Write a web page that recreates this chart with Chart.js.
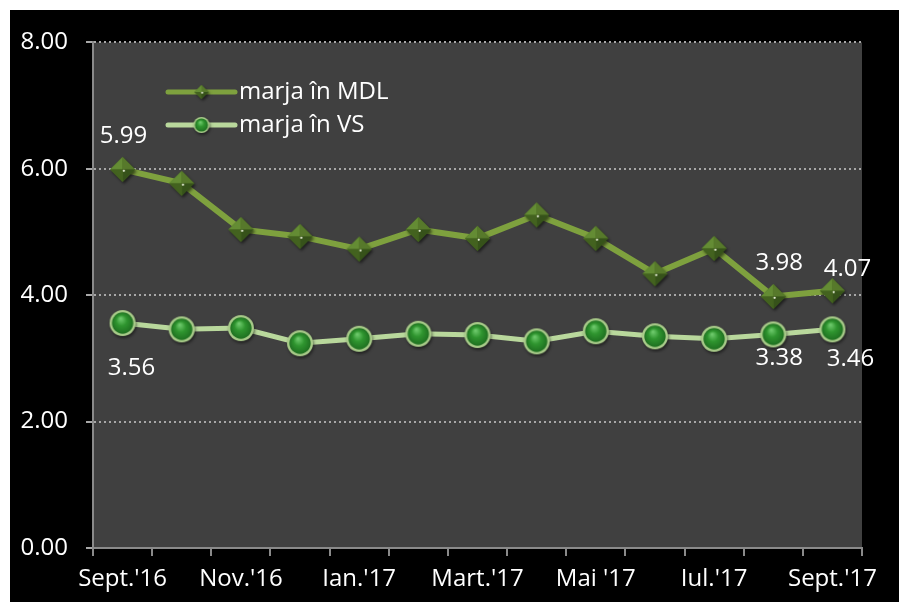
<!DOCTYPE html>
<html>
<head>
<meta charset="utf-8">
<script src="https://cdn.jsdelivr.net/npm/chart.js@4.4.1/dist/chart.umd.min.js"></script>
<style>
  html, body { margin: 0; padding: 0; background: #ffffff; }
  #wrap { position: absolute; left: 10px; top: 10px; width: 889px; height: 592px; background: #000; }
  canvas { display: block; }
</style>
</head>
<body>
<div id="wrap"><canvas id="c" width="889" height="592"></canvas></div>
<script>
// ---- data ----
const categories = ["Sept.'16", "Oct.'16", "Nov.'16", "Dec.'16", "Ian.'17", "Feb.'17", "Mart.'17", "Apr.'17", "Mai '17", "Iun.'17", "Iul.'17", "Aug.'17", "Sept.'17"];
const seriesNames = ["marja în MDL", "marja în VS"];
const marjaMDL = [5.99, 5.77, 5.04, 4.93, 4.73, 5.04, 4.90, 5.27, 4.90, 4.34, 4.74, 3.98, 4.07];
const marjaVS  = [3.56, 3.46, 3.48, 3.24, 3.31, 3.39, 3.37, 3.27, 3.43, 3.35, 3.31, 3.38, 3.46];
const yTicks = [0, 2, 4, 6, 8];

// labelled points (dataset, index) with label offsets (style)
const labelled = [
  {ds: 0, i: 0,  dx: 1,  dy: -33},
  {ds: 0, i: 11, dx: 6,  dy: -33},
  {ds: 0, i: 12, dx: 15, dy: -22},
  {ds: 1, i: 0,  dx: 9,  dy: 45},
  {ds: 1, i: 11, dx: 6,  dy: 24},
  {ds: 1, i: 12, dx: 18, dy: 30}
];

const FONT = "'Open Sans', 'Noto Sans', sans-serif";

function makeDiamond(h) {
  const s = Math.ceil(h * 2 + 8);
  const cv = document.createElement('canvas');
  cv.width = s; cv.height = s;
  const g = cv.getContext('2d');
  const c = s / 2;
  g.save();
  g.shadowColor = 'rgba(0,0,0,0.55)';
  g.shadowBlur = 3; g.shadowOffsetX = 1.5; g.shadowOffsetY = 2;
  g.beginPath();
  g.moveTo(c, c - h); g.lineTo(c + h, c); g.lineTo(c, c + h); g.lineTo(c - h, c); g.closePath();
  g.fillStyle = '#4a6a22'; g.fill();
  g.restore();
  const faces = [
    [[c, c - h], [c - h, c], '#648c34'],
    [[c, c - h], [c + h, c], '#57792b'],
    [[c + h, c], [c, c + h], '#36521a'],
    [[c, c + h], [c - h, c], '#43621f']
  ];
  faces.forEach(f => {
    g.beginPath();
    g.moveTo(c, c); g.lineTo(f[0][0], f[0][1]); g.lineTo(f[1][0], f[1][1]); g.closePath();
    g.fillStyle = f[2]; g.fill();
  });
  g.beginPath(); g.arc(c + h * 0.1, c + h * 0.1, Math.max(1, h * 0.09), 0, Math.PI * 2);
  g.fillStyle = '#e8f0d8'; g.fill();
  return cv;
}

function makeBall(r) {
  const s = Math.ceil(r * 2 + 8);
  const cv = document.createElement('canvas');
  cv.width = s; cv.height = s;
  const g = cv.getContext('2d');
  const c = s / 2;
  g.save();
  g.shadowColor = 'rgba(0,0,0,0.5)';
  g.shadowBlur = 3; g.shadowOffsetX = 1; g.shadowOffsetY = 2;
  g.beginPath(); g.arc(c, c, r, 0, Math.PI * 2);
  g.fillStyle = '#a9cc8a'; g.fill();
  g.restore();
  const gr = g.createRadialGradient(c - r * 0.15, c - r * 0.35, r * 0.05, c, c, r * 0.85);
  gr.addColorStop(0, '#6cc86a');
  gr.addColorStop(0.45, '#2f952f');
  gr.addColorStop(1, '#1e6e20');
  g.beginPath(); g.arc(c, c, r * 0.82, 0, Math.PI * 2);
  g.fillStyle = gr; g.fill();
  return cv;
}

const diamondBig = makeDiamond(12.5);
const ballBig = makeBall(13);
const diamondSmall = makeDiamond(7);
const ballSmall = makeBall(8);
const legendMarkers = [diamondSmall, ballSmall];

const plotBg = {
  id: 'plotBg',
  beforeDraw(chart) {
    const a = chart.chartArea, ctx = chart.ctx;
    ctx.save();
    ctx.fillStyle = '#404040';
    ctx.fillRect(a.left, a.top, a.right - a.left, a.bottom - a.top);
    ctx.restore();
  }
};

const dataLabels = {
  id: 'dataLabels',
  afterDatasetsDraw(chart) {
    const ctx = chart.ctx;
    ctx.save();
    ctx.font = '24px ' + FONT;
    ctx.fillStyle = '#ffffff';
    ctx.textAlign = 'center';
    ctx.textBaseline = 'middle';
    labelled.forEach(l => {
      const el = chart.getDatasetMeta(l.ds).data[l.i];
      const v = chart.data.datasets[l.ds].data[l.i];
      ctx.fillText(v.toFixed(2), el.x + l.dx, el.y + l.dy);
    });
    ctx.restore();
  }
};

const innerLegend = {
  id: 'innerLegend',
  afterDatasetsDraw(chart) {
    const ctx = chart.ctx;
    const x0 = 158, x1 = 225, ys = [82, 115];
    ctx.save();
    chart.data.datasets.forEach((ds, k) => {
      const y = ys[k];
      ctx.strokeStyle = ds.borderColor;
      ctx.lineWidth = 5;
      ctx.lineCap = 'round';
      ctx.beginPath(); ctx.moveTo(x0, y); ctx.lineTo(x1, y); ctx.stroke();
      const m = legendMarkers[k];
      ctx.drawImage(m, (x0 + x1) / 2 - m.width / 2, y - m.height / 2);
      ctx.font = '24px ' + FONT;
      ctx.fillStyle = '#ffffff';
      ctx.textAlign = 'left';
      ctx.textBaseline = 'middle';
      ctx.fillText(ds.label, x1 + 4, y);
    });
    ctx.restore();
  }
};

new Chart(document.getElementById('c'), {
  type: 'line',
  data: {
    labels: categories,
    datasets: [
      {
        label: seriesNames[0], data: marjaMDL,
        borderColor: '#7ea13e', borderWidth: 6, tension: 0,
        pointStyle: diamondBig, pointRadius: 13, pointHoverRadius: 13
      },
      {
        label: seriesNames[1], data: marjaVS,
        borderColor: '#b9d89c', borderWidth: 5, tension: 0,
        pointStyle: ballBig, pointRadius: 13, pointHoverRadius: 13
      }
    ]
  },
  options: {
    responsive: false,
    animation: false,
    events: [],
    layout: { padding: { left: 0, top: 31, right: 37, bottom: 0 } },
    plugins: { legend: { display: false }, tooltip: { enabled: false } },
    scales: {
      x: {
        offset: true,
        grid: { display: true, drawOnChartArea: false, offset: true, color: '#8a8a8a', lineWidth: 2, tickLength: 8 },
        border: { display: true, color: '#8a8a8a', width: 2 },
        ticks: {
          autoSkip: false, maxRotation: 0, color: '#ffffff', padding: 9,
          font: { size: 24, family: FONT },
          callback: (v, i) => (i % 2 === 0 ? categories[i] : '')
        },
        afterFit(s) { s.height = 54; }
      },
      y: {
        min: 0, max: 8,
        afterBuildTicks(s) { s.ticks = yTicks.map(v => ({ value: v })); },
        grid: { color: '#a8a8a8', lineWidth: 2, tickLength: 7, drawTicks: true },
        border: { display: true, color: '#8a8a8a', width: 2, dash: [2, 3] },
        ticks: {
          color: '#ffffff', padding: 18,
          font: { size: 24, family: FONT },
          callback: v => Number(v).toFixed(2)
        },
        afterFit(s) { s.width = 83; }
      }
    }
  },
  plugins: [plotBg, dataLabels, innerLegend]
});
</script>
</body>
</html>
